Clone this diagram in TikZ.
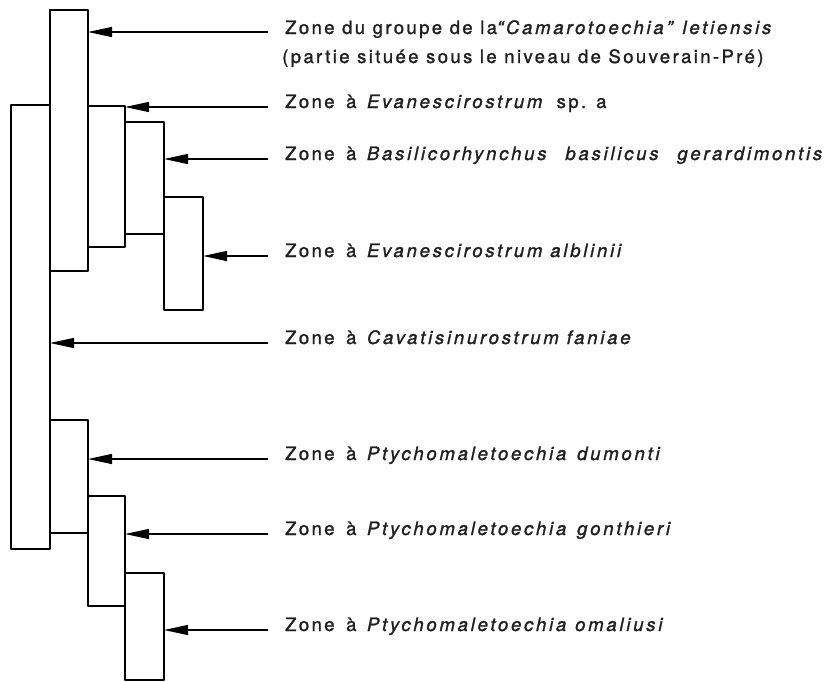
\documentclass[tikz,border=0pt]{standalone}
\usepackage{fontspec}
\setmainfont{TeX Gyre Heros}[LetterSpace=13, FakeBold=1.4, ItalicFeatures={LetterSpace=15}]
\usetikzlibrary{arrows.meta}
\newcommand{\zoneA}{Zone\hspace{4pt} à\hspace{3pt} }
\begin{document}
\begin{tikzpicture}[x=1pt,y=-1pt,
  zbox/.style={draw, line width=2.1pt, outer sep=0pt, inner sep=0pt, anchor=north west, line join=round},
  zarrow/.style={line width=1.3pt, -{Triangle[length=24pt,width=10pt]}},
  zlabel/.style={anchor=base west, inner sep=0pt, text=black!88, font=\fontsize{18.5}{22}\selectfont}]
\useasboundingbox (0,0) rectangle (825,681);
% boxes
\node[zbox, minimum width=39pt, minimum height=444pt] (B) at (11,105) {};
\node[zbox, minimum width=38pt, minimum height=261pt] (A) at (50,10) {};
\node[zbox, minimum width=37pt, minimum height=141pt] (C) at (88,106) {};
\node[zbox, minimum width=39pt, minimum height=112pt] (D) at (125,122) {};
\node[zbox, minimum width=39pt, minimum height=113pt] (E) at (164,197) {};
\node[zbox, minimum width=38pt, minimum height=113pt] (F) at (50,420) {};
\node[zbox, minimum width=37pt, minimum height=110pt] (G) at (88,496) {};
\node[zbox, minimum width=39pt, minimum height=107pt] (H) at (125,573) {};
% arrow tails
\coordinate (a1) at (268,32);
\coordinate (a2) at (268,107);
\coordinate (a3) at (268,159);
\coordinate (a4) at (268,256);
\coordinate (a5) at (268,343);
\coordinate (a6) at (268,459);
\coordinate (a7) at (268,534);
\coordinate (a8) at (268,630);
\draw[zarrow] (a1) -- (a1 -| A.east);
\draw[zarrow] (a2) -- (a2 -| C.east);
\draw[zarrow] (a3) -- (a3 -| D.east);
\draw[zarrow] (a4) -- (a4 -| E.east);
\draw[zarrow] (a5) -- (a5 -| B.east);
\draw[zarrow] (a6) -- (a6 -| F.east);
\draw[zarrow] (a7) -- (a7 -| G.east);
\draw[zarrow] (a8) -- (a8 -| H.east);
% labels
\node[zlabel] (t1) at (285,34) {Zone du groupe de la\textit{“Camarotoechia”\hspace{2pt} letiensis}};
\node[zlabel] (t1b) at (282,63) {(partie située sous le niveau de Souverain-Pré)};
\node[zlabel] (t2) at (285,108) {\zoneA\textit{Evanescirostrum}\hspace{4pt} sp. a};
\node[zlabel] (t3) at (285,160) {\zoneA\textit{Basilicorhynchus\hspace{11pt} basilicus\hspace{11pt} gerardimontis}};
\node[zlabel] (t4) at (285,257) {\zoneA\textit{Evanescirostrum alblinii}};
\node[zlabel] (t5) at (285,344) {\zoneA\textit{Cavatisinurostrum faniae}};
\node[zlabel] (t6) at (285,460) {\zoneA\textit{Ptychomaletoechia\hspace{3pt} dumonti}};
\node[zlabel] (t7) at (285,535) {\zoneA\textit{Ptychomaletoechia\hspace{3pt} gonthieri}};
\node[zlabel] (t8) at (285,631) {\zoneA\textit{Ptychomaletoechia\hspace{1pt} omaliusi}};
\end{tikzpicture}
\end{document}
